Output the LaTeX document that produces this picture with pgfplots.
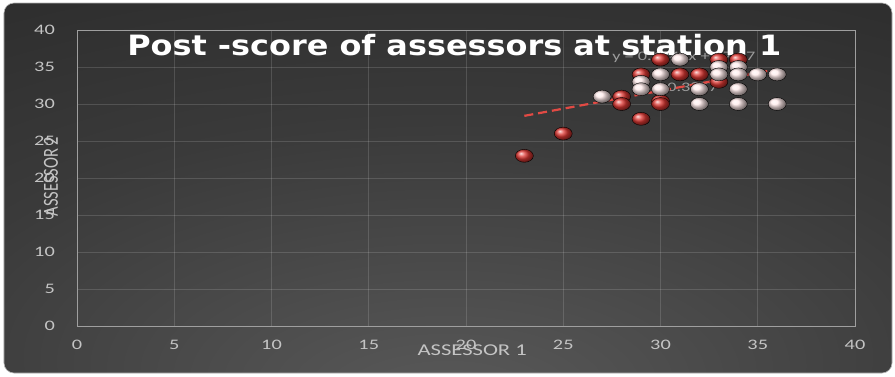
\documentclass[border=0pt]{standalone}
\usepackage{graphicx}
\usepackage{pgfplots}
\pgfplotsset{compat=1.18}
\usepackage{fontspec}
\setmainfont{Carlito}
\newfontfamily\titlefont{DejaVu Sans}
\definecolor{bgA}{HTML}{5A5A5A}
\definecolor{bgB}{HTML}{3A3A3A}
\definecolor{bgC}{HTML}{262626}
\definecolor{ticktext}{HTML}{C4C4C4}
\definecolor{ballred}{HTML}{DE3833}
\definecolor{ballwhite}{HTML}{FFEAEA}
\definecolor{trend}{HTML}{E24A44}
\definecolor{eqtext}{HTML}{9C9C9C}
\pgfdeclareradialshading{bgshade}{\pgfpoint{0bp}{-30bp}}{color(0bp)=(bgA); color(30bp)=(bgB); color(60bp)=(bgC); color(100bp)=(bgC)}
\begin{document}
\begin{tikzpicture}
\useasboundingbox (-77pt,-50pt) rectangle (818pt,326pt);
\fill[white] (-77pt,-50pt) rectangle (818pt,326pt);
\shade[shading=bgshade, rounded corners=10pt] (-73pt,-47pt) rectangle (815pt,323pt);
\draw[gray!60, line width=0.6pt, rounded corners=10pt] (-73pt,-47pt) rectangle (815pt,323pt);
\begin{axis}[
  at={(0pt,0pt)}, anchor=south west,
  scale only axis, width=778pt, height=296pt,
  xmin=0, xmax=40, ymin=0, ymax=40,
  xtick={0,5,...,40}, ytick={0,5,...,40},
  /pgf/number format/assume math mode=true,
  major tick length=0pt,
  grid=major,
  major grid style={white, opacity=0.14, line width=0.6pt},
  axis line style={draw=gray!75, line width=0.8pt},
  tick label style={font=\fontsize{14.5}{17}\selectfont, text=ticktext},
  xticklabel={\scalebox{1.4}[1]{\pgfmathprintnumber{\tick}}},
  yticklabel={\scalebox{1.4}[1]{\pgfmathprintnumber{\tick}}},
  xticklabel style={anchor=center, inner sep=0pt, yshift=-19pt},
  yticklabel style={anchor=east, inner sep=0pt, xshift=-22pt},
  xlabel={\scalebox{1.37}[1]{ASSESSOR 1}},
  ylabel={\scalebox{1}[1.3]{ASSESSOR 2}},
  label style={font=\fontsize{16.5}{19}\selectfont, text=ticktext},
  xlabel style={at={(rel axis cs:0.508,0)}, anchor=center, inner sep=0pt, yshift=-24pt},
  ylabel style={at={(rel axis cs:0,0.505)}, anchor=center, inner sep=0pt, yshift=26pt},
  clip=false,
]
\node[text=eqtext, font=\fontsize{13}{15}\selectfont] at (axis cs:31.2,36.4) {\scalebox{1.4}[1]{y = 0.4846x + 17.27}};
\node[text=eqtext, font=\fontsize{13}{15}\selectfont] at (axis cs:30.8,32.4) {\scalebox{1.4}[1]{R² = 0.3857}};
% red spheres
\addplot[only marks, mark=ball, mark size=9pt, mark options={ball color=ballred, yscale=0.72}] coordinates {
  (23,23) (25,26) (28,31) (28,30) (29,28) (29,34) (30,36) (30,30.4) (30,30)
  (31,34) (32,34) (33,36) (33,33) (34,36)
};
% white / pink spheres
\addplot[only marks, mark=ball, mark size=9pt, mark options={ball color=ballwhite, yscale=0.72}] coordinates {
  (27,31) (29,33) (29,32) (30,34) (30,32) (31,36) (32,32) (32,30)
  (33,35) (33,34) (34,35) (34,34) (34,32) (34,30) (35,34) (36,34) (36,30)
};
% trendline
\addplot[trend, line width=2.2pt, dash pattern=on 9pt off 5pt] coordinates {(23,28.4) (36,34.7)};
\node[text=white, font=\titlefont\bfseries\fontsize{28}{32}\selectfont] at (axis cs:19.4,38) {\scalebox{1.14}[1]{Post -score of assessors at station 1}};
\end{axis}
\end{tikzpicture}
\end{document}
